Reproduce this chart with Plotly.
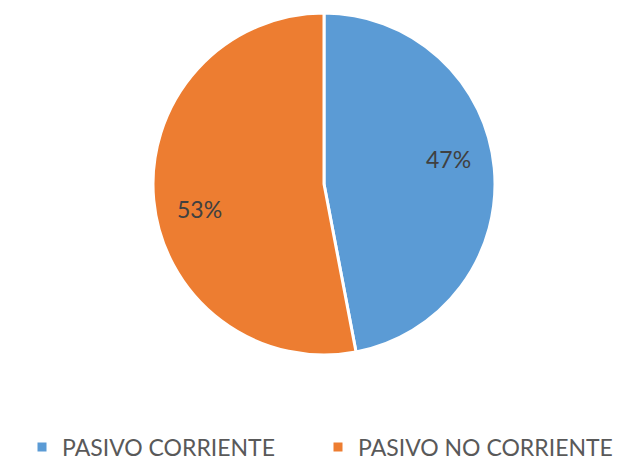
import math
import plotly.graph_objects as go

labels = ["PASIVO CORRIENTE", "PASIVO NO CORRIENTE"]
values = [47, 53]
colors = ["#5B9BD5", "#ED7D31"]

W, H = 608, 459  # page body adds an 8px margin
cx, cy, R = 316, 176, 171  # pie centre / radius in figure px

fig = go.Figure(go.Pie(
    labels=labels,
    values=values,
    sort=False,
    direction="clockwise",
    rotation=0,
    marker=dict(colors=colors, line=dict(color="white", width=3)),
    textinfo="none",
    domain=dict(x=[(cx - R) / W, (cx + R) / W], y=[1 - (cy + R) / H, 1 - (cy - R) / H]),
    hoverinfo="label+percent",
))

# percentage labels placed along each slice's mid-angle
total = sum(values)
start = 0.0
annotations = []
for v in values:
    frac = v / total
    mid = (start + frac / 2) * 360 - 6
    start += frac
    a = math.radians(mid)
    x = cx + 0.745 * R * math.sin(a)
    y = cy - 0.745 * R * math.cos(a)
    annotations.append(dict(
        x=x / W, y=1 - y / H, xref="paper", yref="paper",
        text=f"{round(frac * 100)}%", showarrow=False,
        xanchor="center", yanchor="middle",
        font=dict(family="Lato", size=23, color="#404040"),
    ))

fig.update_layout(
    width=W, height=H,
    margin=dict(l=0, r=0, t=0, b=0, autoexpand=False),
    paper_bgcolor="white",
    plot_bgcolor="white",
    showlegend=True,
    annotations=annotations,
    legend=dict(
        orientation="h",
        x=14 / W, xanchor="left",
        y=1 - 439 / H, yanchor="middle",
        font=dict(family="Lato", size=23, color="#595959"),
        itemwidth=30,
        entrywidth=251, entrywidthmode="pixels",
        traceorder="normal",
    ),
)

fig.write_html("out.html")
